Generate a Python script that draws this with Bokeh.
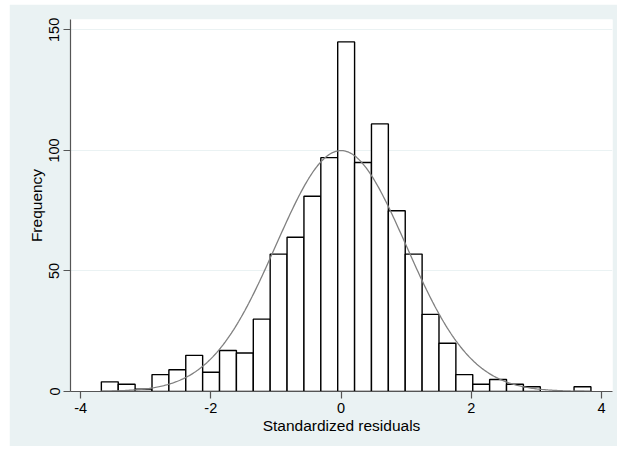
import numpy as np
from bokeh.plotting import figure
from bokeh.models import Range1d, FixedTicker, ColumnDataSource
from bokeh.embed import file_html
from bokeh.resources import INLINE

# ---- data ----
counts = [4, 3, 1, 7, 9, 15, 8, 17, 16, 30, 57, 64, 81, 97, 145,
          95, 111, 75, 57, 32, 20, 7, 3, 5, 3, 2, 0, 0, 2]
bin_start = -3.681
bin_width = 0.2593
curve_mean = 0.0
curve_sd = 1.0
x_ticks = [-4, -2, 0, 2, 4]
y_ticks = [0, 50, 100, 150]
x_title = "Standardized residuals"
y_title = "Frequency"

# ---- derived tables ----
n_obs = sum(counts)
lefts = [bin_start + i * bin_width for i in range(len(counts))]
rights = [l + bin_width for l in lefts]
bars = ColumnDataSource(dict(
    left=[l for l, c in zip(lefts, counts) if c > 0],
    right=[r for r, c in zip(rights, counts) if c > 0],
    top=[c for c in counts if c > 0],
))
xs = np.linspace(lefts[0], rights[-1], 400)
ys = n_obs * bin_width * np.exp(-0.5 * ((xs - curve_mean) / curve_sd) ** 2) / (curve_sd * np.sqrt(2 * np.pi))

BG = "#EAF2F3"
FONT = "Liberation Sans"

p = figure(width=608, height=442, output_backend="svg", toolbar_location=None,
           x_range=Range1d(-4.155, 4.17), y_range=Range1d(0, 154.3),
           min_border_left=61, min_border_right=5, min_border_top=15, min_border_bottom=55,
           border_fill_color=BG, background_fill_color="white", outline_line_color=None)
p.margin = (4, 0, 5, 9)

p.quad(left="left", right="right", top="top", bottom=0, source=bars,
       fill_color="white", line_color="black", line_width=1.4)
p.line(xs, ys, line_color="#808080", line_width=1.3)

p.xgrid.visible = False
p.ygrid.grid_line_color = BG
p.ygrid.grid_line_width = 1.2
p.ygrid.ticker = FixedTicker(ticks=y_ticks)

for ax in (p.xaxis[0], p.yaxis[0]):
    ax.axis_line_color = "#555555"
    ax.axis_line_width = 1.2
    ax.major_tick_line_color = "#555555"
    ax.major_tick_line_width = 1.2
    ax.major_tick_out = 7
    ax.major_tick_in = 0
    ax.minor_tick_line_color = None
    ax.major_label_text_font = FONT
    ax.major_label_text_font_size = "14.5px"
    ax.major_label_text_color = "black"
    ax.axis_label_text_font = FONT
    ax.axis_label_text_font_size = "15.5px"
    ax.axis_label_text_font_style = "normal"
    ax.axis_label_text_color = "black"

p.xaxis[0].ticker = FixedTicker(ticks=x_ticks)
p.yaxis[0].ticker = FixedTicker(ticks=y_ticks)
p.xaxis[0].axis_label = x_title
p.yaxis[0].axis_label = y_title
p.xaxis[0].major_label_standoff = 4
p.yaxis[0].major_label_standoff = 4
p.xaxis[0].axis_label_standoff = 1
p.yaxis[0].axis_label_standoff = 2
p.yaxis[0].major_label_orientation = "vertical"
p.xaxis[0].major_label_overrides = {-4: "-4", -2: "-2"}

open("out.html", "w").write(file_html(p, INLINE))
